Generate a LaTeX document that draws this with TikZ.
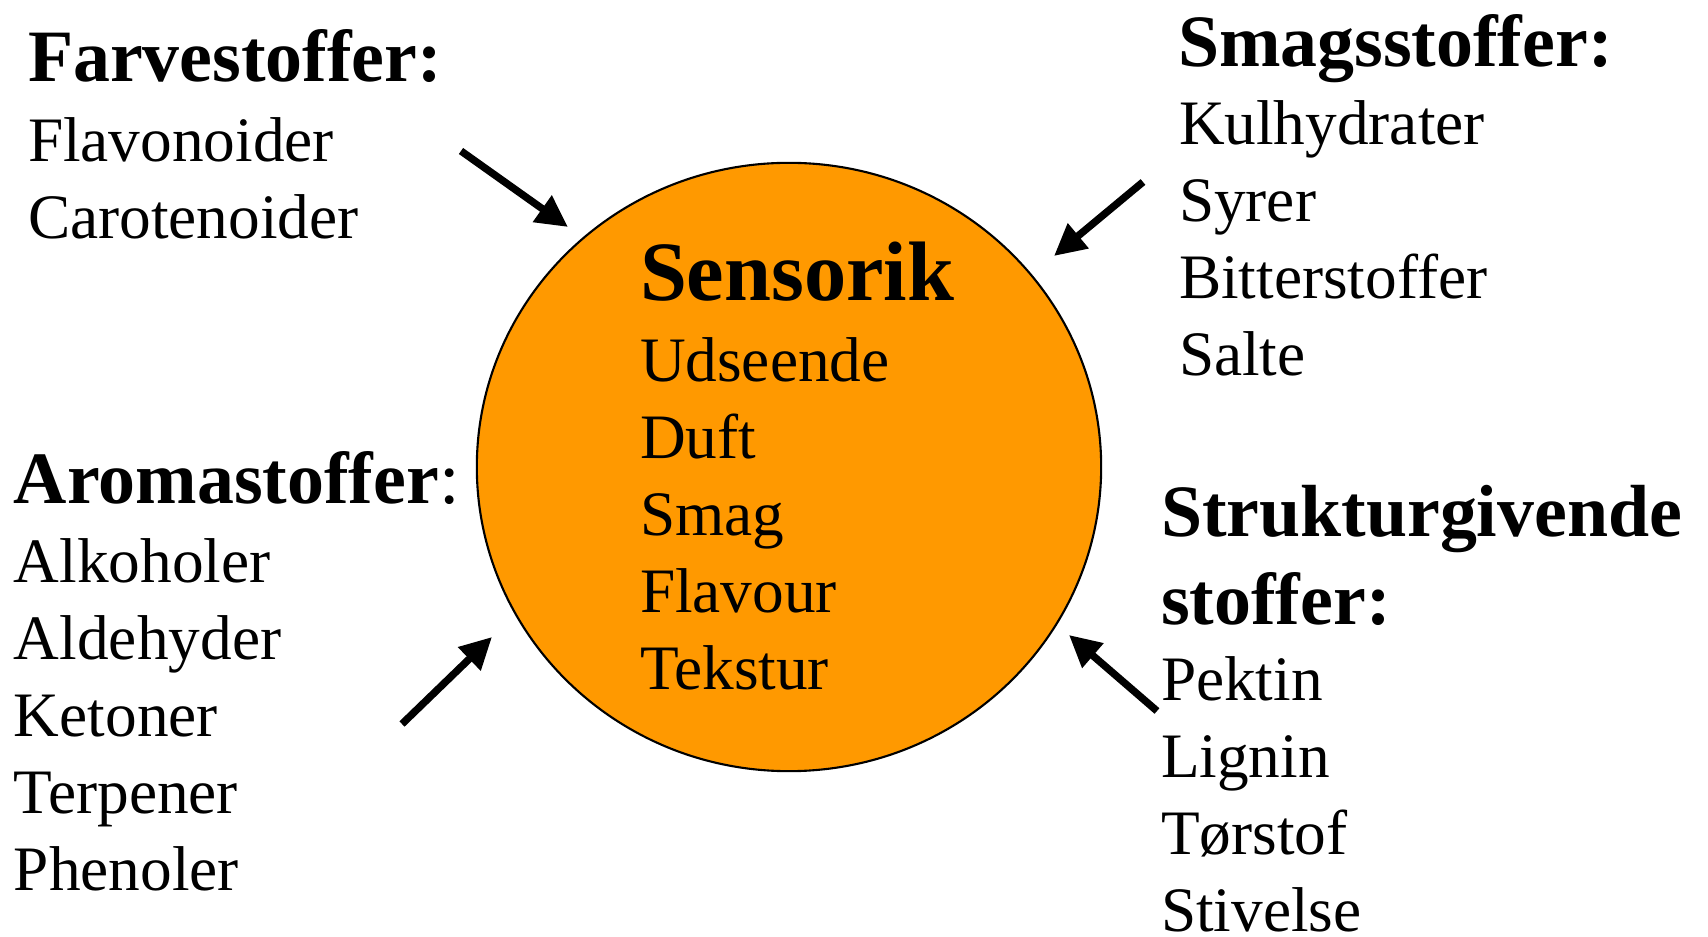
\documentclass[tikz,border=0pt]{standalone}
\usepackage{fontspec}
\setmainfont{Liberation Serif}
\usetikzlibrary{shapes.geometric,arrows.meta}
\definecolor{senseorange}{RGB}{255,153,0}
\tikzset{every node/.style={inner sep=0pt, outer sep=0pt, anchor=base west},
  head/.style={font=\fontsize{21}{25}\selectfont\bfseries},
  item/.style={font=\fontsize{18}{22}\selectfont},
  pointer/.style={line width=2.1pt, -{Triangle[length=9pt,width=8.8pt]}}}

\begin{document}
\begin{tikzpicture}[x=0.01cm, y=-0.01cm]
   \useasboundingbox (0,0) rectangle (1708,937);
   % the disc in the middle
   \node (disc) [ellipse, draw, line width=0.6pt, fill=senseorange, anchor=center,
         minimum width=6.24cm, minimum height=6.08cm] at (789,467) {};
   \node (sensorik) [font=\fontsize{24}{28}\selectfont\bfseries] at (640,301) {Sensorik};
   \foreach \txt [count=\i] in {Udseende,Duft,Smag,Flavour,Tekstur}
     \node[item] (sensorik-\i) at (640,{305+77*\i}) {\txt};
   % top left
   \node[head] (farve) at (28,82) {Farvestoffer:};
   \foreach \txt [count=\i] in {Flavonoider,Carotenoider}
     \node[item] (farve-\i) at (28,{85+77*\i}) {\txt};
   % top right
   \node[head] (smag) at (1178,67) {Smagsstoffer:};
   \foreach \txt [count=\i] in {Kulhydrater,Syrer,Bitterstoffer,Salte}
     \node[item] (smag-\i) at (1179,{68+77*\i}) {\txt};
   % bottom left
   \node[head] (aroma) at (14,504) {Aromastoffer\normalfont:};
   \foreach \txt [count=\i] in {Alkoholer,Aldehyder,Ketoner,Terpener,Phenoler}
     \node[item] (aroma-\i) at (14,{506+77*\i}) {\txt};
   % bottom right
   \node[head] (struktur) at (1161,537) {Strukturgivende};
   \node[head] (struktur-b) at (1161,625) {stoffer:};
   \foreach \txt [count=\i] in {Pektin,Lignin,T\o rstof,Stivelse}
     \node[item] (struktur-\i) at (1161,{624+77*\i}) {\txt};
   % arrows towards the disc
   \coordinate (farve-from) at (461,151);   \coordinate (farve-to) at (568,227);
   \coordinate (smag-from) at (1143,182);   \coordinate (smag-to) at (1054,256);
   \coordinate (aroma-from) at (402,724);   \coordinate (aroma-to) at (492,637);
   \coordinate (struktur-from) at (1157,711); \coordinate (struktur-to) at (1069,635);
   \draw[pointer] (farve-from) -- (farve-to);
   \draw[pointer] (smag-from) -- (smag-to);
   \draw[pointer] (aroma-from) -- (aroma-to);
   \draw[pointer] (struktur-from) -- (struktur-to);
\end{tikzpicture}
\end{document}
